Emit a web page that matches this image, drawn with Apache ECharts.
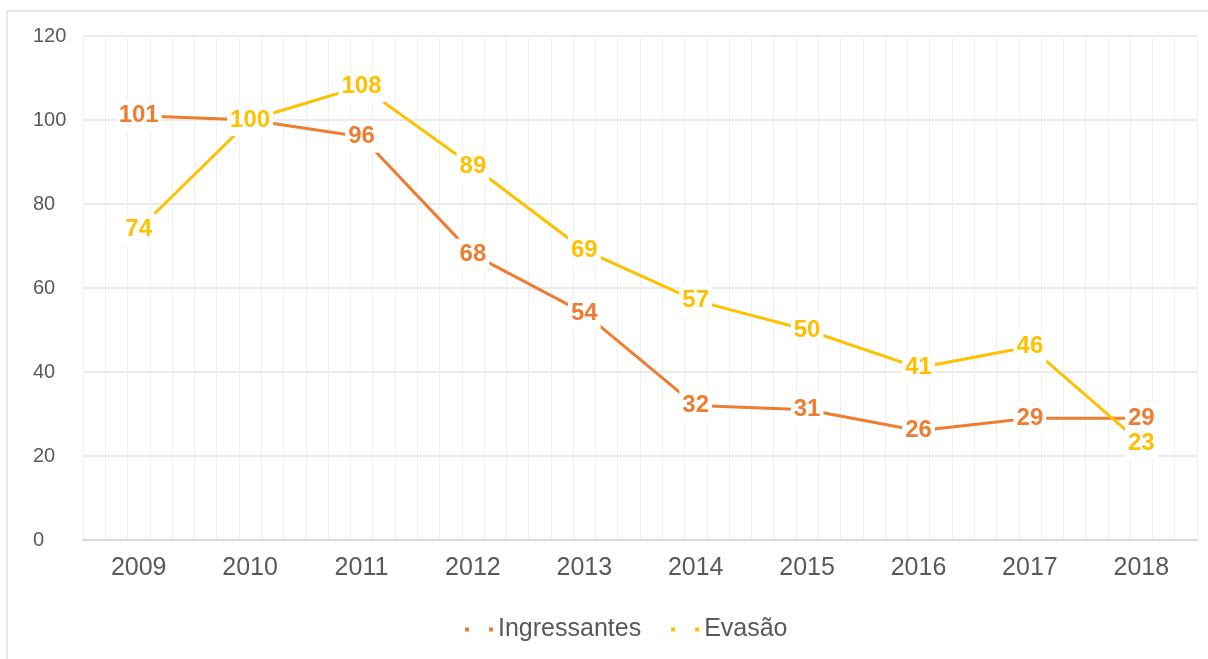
<!DOCTYPE html>
<html lang="pt">
<head>
    <meta charset="UTF-8">
    <title>Ingressantes x Evasão</title>
    <script src="https://cdn.jsdelivr.net/npm/echarts@6/dist/echarts.min.js"></script>
    <style>
        html, body { margin: 0; padding: 0; background: #fff; }
        #grafico { width: 1208px; height: 659px; }
    </style>
</head>
<body>
<div id="grafico"></div>
<script type="text/javascript">
    // dados
    var anos = ['2009', '2010', '2011', '2012', '2013', '2014', '2015', '2016', '2017', '2018'];
    var ingressantes = [101, 100, 96, 68, 54, 32, 31, 26, 29, 29];
    var evasao = [74, 100, 108, 89, 69, 57, 50, 41, 46, 23];
    var ticksY = [0, 20, 40, 60, 80, 100, 120];

    var corIngressantes = '#ED7D31';
    var corEvasao = '#FFC000';
    var cinzaTexto = '#595959';
    var fonte = '"Liberation Sans", Arial, sans-serif';

    function rotulo(cor) {
        return {
            show: true,
            position: 'inside',
            color: cor,
            fontFamily: fonte,
            fontWeight: 'bold',
            fontSize: 24,
            backgroundColor: '#fff',
            padding: [4, 3]
        };
    }

    var myChart = echarts.init(document.getElementById('grafico'));
    myChart.setOption({
        animation: false,
        textStyle: { fontFamily: fonte },
        graphic: [{
            type: 'rect',
            shape: { x: 7, y: 11, width: 1230, height: 700 },
            style: { fill: 'none', stroke: '#e0e0e0', lineWidth: 1.5 },
            silent: true
        }],
        grid: { left: 83, right: 11, top: 36, bottom: 119 },
        legend: {
            left: 460,
            top: 612,
            itemGap: 30,
            itemWidth: 28,
            itemHeight: 4,
            icon: 'path://M0,0h4v4h-4z M24,0h4v4h-4z',
            textStyle: { color: cinzaTexto, fontSize: 25, fontFamily: fonte },
            data: ['Ingressantes', 'Evasão']
        },
        xAxis: [{
            type: 'category',
            data: anos,
            boundaryGap: true,
            axisTick: { show: false },
            axisLine: { lineStyle: { color: '#d9d9d9', width: 2 } },
            axisLabel: { color: cinzaTexto, fontSize: 25, margin: 16, fontFamily: fonte },
            splitLine: { show: false }
        }, {
            // linhas verticais finas (5 por categoria)
            type: 'value',
            position: 'top',
            min: 0,
            max: anos.length,
            interval: 0.2,
            axisLine: { show: false },
            axisTick: { show: false },
            axisLabel: { show: false },
            splitLine: { show: true, lineStyle: { color: '#efefef', width: 1 } }
        }],
        yAxis: {
            type: 'value',
            min: ticksY[0],
            max: ticksY[ticksY.length - 1],
            interval: 20,
            axisLine: { show: false },
            axisTick: { show: false },
            axisLabel: { color: cinzaTexto, fontSize: 20, align: 'left', margin: 50, fontFamily: fonte },
            splitLine: { lineStyle: { color: '#e3e3e3', width: 1.5 } }
        },
        series: [{
            name: 'Ingressantes',
            type: 'line',
            xAxisIndex: 0,
            data: ingressantes,
            symbol: 'circle',
            symbolSize: 1,
            itemStyle: { color: corIngressantes },
            lineStyle: { color: corIngressantes, width: 3 },
            label: rotulo(corIngressantes)
        }, {
            name: 'Evasão',
            type: 'line',
            xAxisIndex: 0,
            data: evasao,
            symbol: 'circle',
            symbolSize: 1,
            itemStyle: { color: corEvasao },
            lineStyle: { color: corEvasao, width: 3 },
            label: rotulo(corEvasao)
        }]
    });
</script>
</body>
</html>
